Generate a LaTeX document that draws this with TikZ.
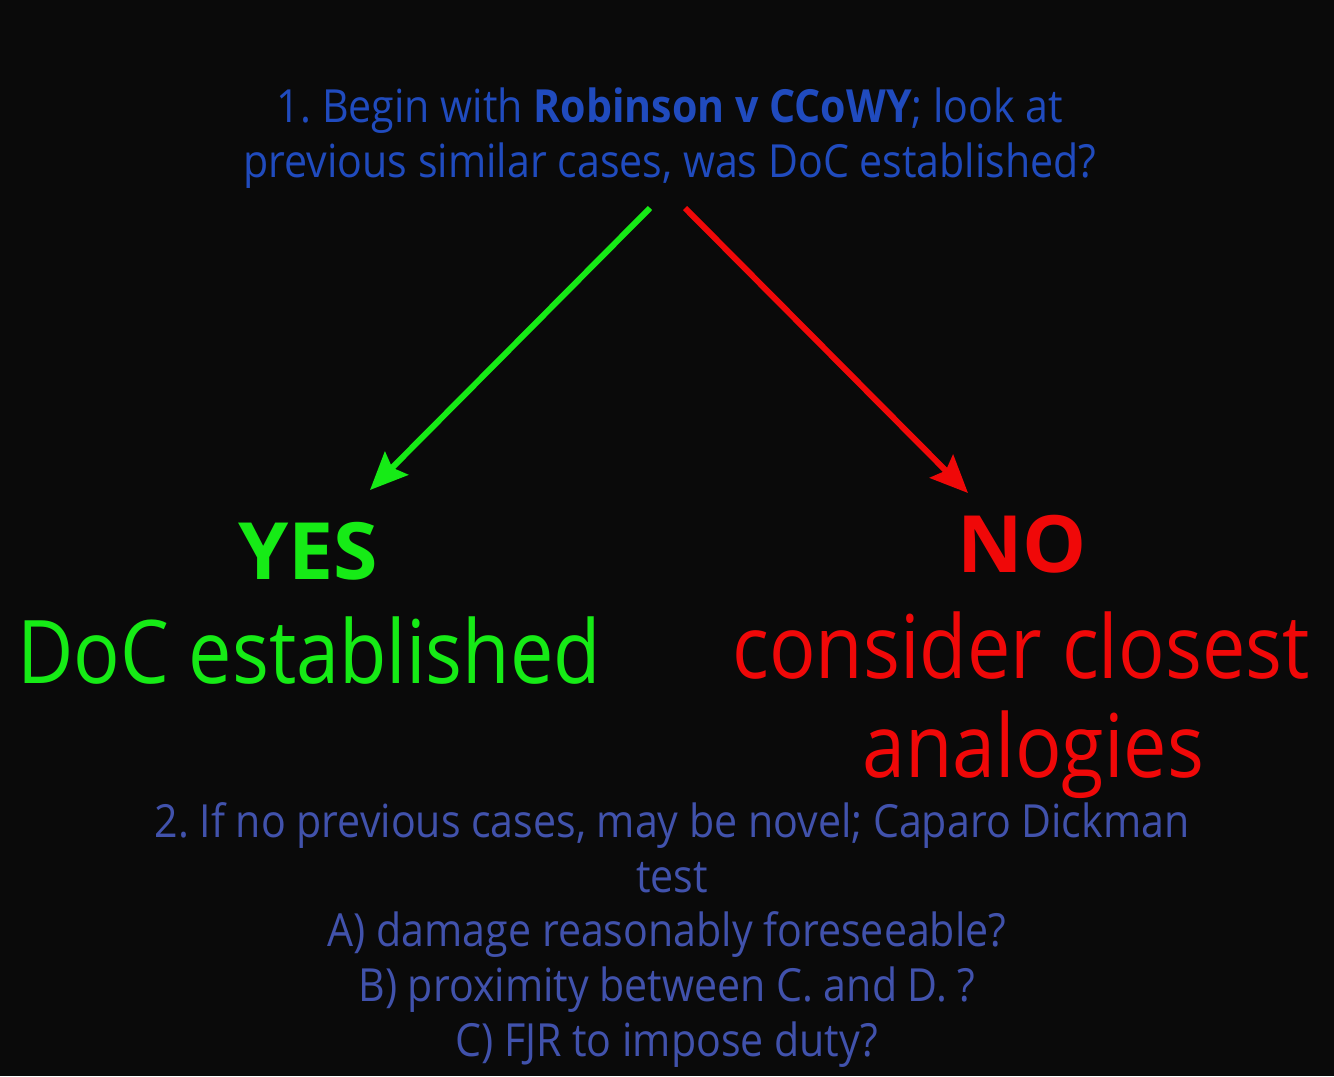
\documentclass[tikz,border=0pt]{standalone}
\usepackage{fontspec}
\setmainfont[FakeStretch=0.88]{Open Sans}
\newfontfamily\askfont[FakeStretch=0.90]{Open Sans}
\newfontfamily\verdictfont[FakeStretch=1.02]{Open Sans}
\usetikzlibrary{positioning,arrows.meta,calc}
\definecolor{bgblack}{RGB}{10,10,10}
\definecolor{qblue}{RGB}{32,75,190}
\definecolor{tblue}{RGB}{65,82,172}
\definecolor{yesgreen}{RGB}{22,235,22}
\definecolor{nored}{RGB}{240,8,8}
\frenchspacing
\tikzset{
  txt/.style    ={inner sep=0pt, anchor=base, align=center},
  ask/.style    ={txt, text=qblue, font=\askfont\fontsize{26}{32}\selectfont},
  test/.style   ={txt, text=tblue, font=\askfont\fontsize{26}{32}\selectfont},
  verdict/.style={txt, font=\verdictfont\fontsize{45}{50}\selectfont\bfseries},
  says/.style   ={txt, font=\fontsize{50}{56}\selectfont},
  fl/.style     ={-{Stealth[length=7.5mm, width=6.5mm, inset=1.2mm]}, line width=3.4pt},
}
\begin{document}
\begin{tikzpicture}[x=0.02cm, y=-0.02cm]
  \fill[bgblack] (0,0) rectangle (1334,1076);
  \useasboundingbox (0,0) rectangle (1334,1076);

  % the question at the top
  \node[ask] (q1) at (670,122) {1. Begin with \textbf{Robinson v CCoWY}; look at};
  \node[ask] (q2) at (670,177) {previous similar cases, was DoC established?};

  % the two answers
  \node[verdict, text=yesgreen] (yes) at (308,579) {YES};
  \node[says, text=yesgreen] (doc) at (309,683) {DoC established};
  \node[verdict, text=nored] (no) at (1022,572) {NO};
  \node[says, text=nored] (cons) at (1021,678) {consider closest};
  \node[says, text=nored] (anal) at (1033,777) {analogies};

  \coordinate (gs) at (650,208);
  \coordinate (ge) at (370,490);
  \coordinate (rs) at (685,208);
  \coordinate (re) at (968,493);
  \draw[fl, yesgreen] (gs) -- (ge);
  \draw[fl, nored] (rs) -- (re);

  % the novel-case test
  \node[test] (n1) at (672,837) {2. If no previous cases, may be novel; Caparo Dickman};
  \node[test] (n2) at (672,892) {test};
  \node[test] (ta) at (667,946) {A) damage reasonably foreseeable?};
  \node[test] (tb) at (667,1001) {B) proximity between C. and D. ?};
  \node[test] (tc) at (667,1056) {C) FJR to impose duty?};
\end{tikzpicture}
\end{document}
